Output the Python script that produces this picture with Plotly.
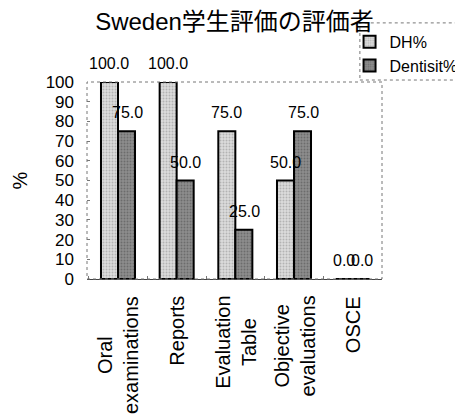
import plotly.graph_objects as go

categories = ["Oral<br>examinations", "Reports", "Evaluation<br>Table",
              "Objective<br>evaluations", "OSCE"]
dh = [100.0, 100.0, 75.0, 50.0, 0.0]
dentist = [75.0, 50.0, 25.0, 75.0, 0.0]
y_ticks = list(range(0, 101, 10))

FONT = "Liberation Sans, Arial, Noto Sans CJK JP"

fig = go.Figure()
fig.add_trace(go.Bar(
    x=categories, y=dh, name="DH%",
    marker=dict(color="#dcdcdc", line=dict(color="black", width=2),
                pattern=dict(shape=".", fgcolor="#8a8a8a", size=3, solidity=0.35)),
))
fig.add_trace(go.Bar(
    x=categories, y=dentist, name="Dentisit%",
    marker=dict(color="#8e8e8e", line=dict(color="black", width=2),
                pattern=dict(shape=".", fgcolor="#4a4a4a", size=3, solidity=0.35)),
))

# value labels above the bars
annots = []
for i, c in enumerate(categories):
    annots.append(dict(x=c, y=dh[i], xref="x", yref="y", text=f"{dh[i]:.1f}",
                       showarrow=False, yanchor="bottom", xshift=-9, yshift=8,
                       font=dict(size=16, color="black", family=FONT)))
    annots.append(dict(x=c, y=dentist[i], xref="x", yref="y", text=f"{dentist[i]:.1f}",
                       showarrow=False, yanchor="bottom", xshift=9, yshift=8,
                       font=dict(size=16, color="black", family=FONT)))
    # rotated category labels
    annots.append(dict(x=c, y=0, xref="x", yref="y", text=c, textangle=-90,
                       showarrow=False, yanchor="top", xanchor="center", align="center",
                       yshift=-15, font=dict(size=20, color="black", family=FONT)))

fig.update_layout(
    width=455, height=412,
    margin=dict(l=79, r=81, t=74, b=141, autoexpand=False),
    paper_bgcolor="white", plot_bgcolor="white",
    font=dict(family=FONT, color="black"),
    title=dict(text="Sweden学生評価の評価者", x=0.5, xref="paper", y=0.966,
               yanchor="middle", font=dict(size=24, color="black")),
    barmode="group", bargap=0.42, bargroupgap=0,
    showlegend=True,
    legend=dict(x=0.89, xanchor="left", y=1.29, yanchor="top",
                bgcolor="rgba(0,0,0,0)", borderwidth=0,
                font=dict(size=16, color="black")),
    annotations=annots,
    shapes=[
        dict(type="rect", xref="paper", yref="paper", x0=0, x1=1, y0=0, y1=1,
             line=dict(color="#777777", width=1, dash="dot")),
        dict(type="rect", xref="paper", yref="paper", x0=0.925, x1=1.35, y0=1.01, y1=1.30,
             line=dict(color="#777777", width=1, dash="dot")),
    ],
)
fig.update_xaxes(showticklabels=False, tickson="boundaries", ticks="inside",
                 ticklen=3, tickcolor="#777777", showline=True, linecolor="#444444",
                 linewidth=1, showgrid=False, automargin=False)
fig.update_yaxes(range=[0, 100], tickvals=y_ticks, ticks="inside", ticklen=3,
                 tickcolor="#777777", showgrid=False, zeroline=False, automargin=False,
                 tickfont=dict(size=17), ticklabelstandoff=12,
                 title=dict(text="%", font=dict(size=20), standoff=12))

fig.write_html("out.html")
